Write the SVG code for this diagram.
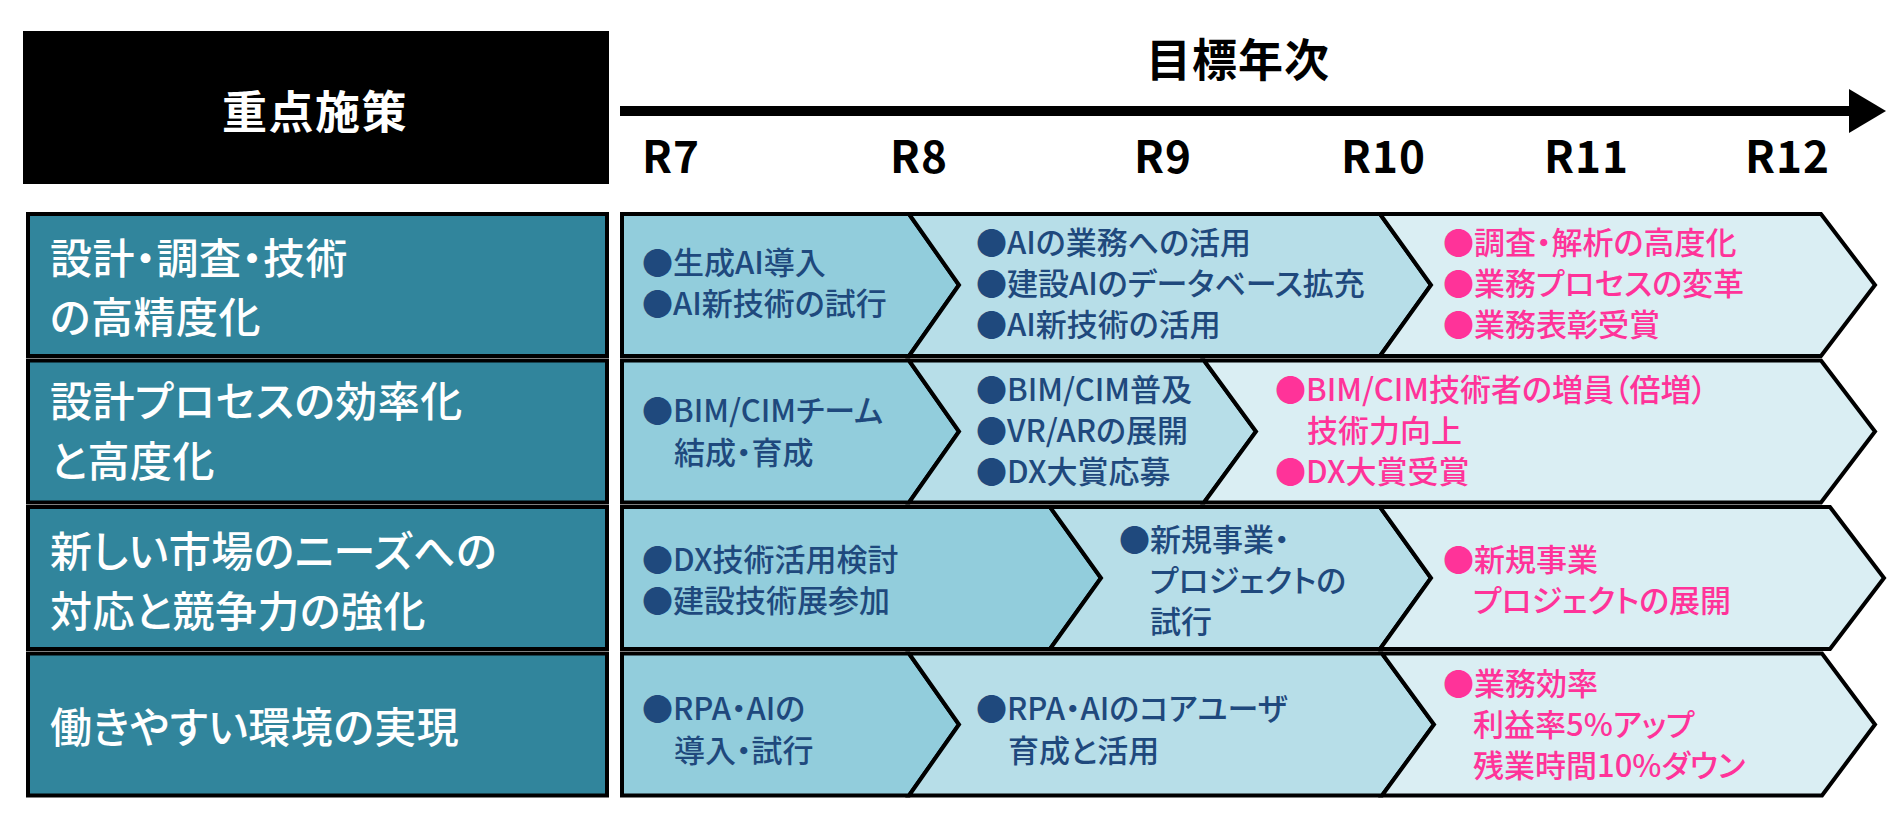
<svg xmlns="http://www.w3.org/2000/svg" width="1903" height="823" viewBox="0 0 1903 823">
<defs>
<style>
.hd{font-family:"Noto Sans CJK JP","Noto Sans",sans-serif;font-weight:700;fill:#000}
.hdw{font-family:"Noto Sans CJK JP","Noto Sans",sans-serif;font-weight:700;fill:#fff}
.lbox{fill:#31859C;stroke:#000;stroke-width:4}
.lt{font-family:"Noto Sans CJK JP","Noto Sans",sans-serif;font-size:42px;font-weight:500;fill:#fff;letter-spacing:0.5px;font-feature-settings:"palt" 1}
.c1{fill:#92CDDC;stroke:#000;stroke-width:4;stroke-linejoin:miter}
.c2{fill:#B7DEE8;stroke:#000;stroke-width:4;stroke-linejoin:miter}
.c3{fill:#DAEEF3;stroke:#000;stroke-width:4;stroke-linejoin:miter}
.t{font-family:"Noto Sans CJK JP","Noto Sans",sans-serif;font-size:31px;font-weight:500;fill:#1F497D;font-feature-settings:"palt" 1}
.p{font-family:"Noto Sans CJK JP","Noto Sans",sans-serif;font-size:31px;font-weight:500;fill:#FF3399;font-feature-settings:"palt" 1}
</style>
<marker id="ah" markerUnits="userSpaceOnUse" markerWidth="40" markerHeight="46" refX="0" refY="22" orient="auto">
<path d="M0,0 L37,22 L0,44 Z" fill="#000"/>
</marker>
</defs>

<g id="header">
<rect x="23" y="31" width="586" height="153" fill="#000"/>
<text class="hdw" x="315" y="129" font-size="45" text-anchor="middle" letter-spacing="1.5">重点施策</text>
<text class="hd" x="1238" y="77" font-size="45" text-anchor="middle" letter-spacing="1">目標年次</text>
</g>

<g id="connectors">
<line x1="620" y1="111" x2="1849" y2="111" stroke="#000" stroke-width="10" marker-end="url(#ah)"/>
</g>

<g id="years" class="hd" font-size="44" letter-spacing="1">
<text x="642" y="173">R7</text>
<text x="890" y="173">R8</text>
<text x="1134" y="173">R9</text>
<text x="1341" y="173">R10</text>
<text x="1544" y="173">R11</text>
<text x="1745" y="173">R12</text>
</g>

<g id="row1">
<rect class="lbox" x="28" y="214" width="579" height="142"/>
<text class="lt" x="50" y="274">設計・調査・技術</text>
<text class="lt" x="50" y="333">の高精度化</text>
<polygon class="c1" points="622,214 909,214 959,285 909,356 622,356"/>
<polygon class="c2" points="909,214 1380,214 1431,285 1380,356 909,356 959,285"/>
<polygon class="c3" points="1380,214 1821,214 1875,285 1821,356 1380,356 1431,285"/>
<text class="t" x="642" y="274">●生成AI導入</text>
<text class="t" x="642" y="315">●AI新技術の試行</text>
<text class="t" x="976" y="254">●AIの業務への活用</text>
<text class="t" x="976" y="295">●建設AIのデータベース拡充</text>
<text class="t" x="976" y="336">●AI新技術の活用</text>
<text class="p" x="1443" y="254">●調査・解析の高度化</text>
<text class="p" x="1443" y="295">●業務プロセスの変革</text>
<text class="p" x="1443" y="336">●業務表彰受賞</text>
</g>

<g id="row2">
<rect class="lbox" x="28" y="360.5" width="579" height="142"/>
<text class="lt" x="50" y="417">設計プロセスの効率化</text>
<text class="lt" x="50" y="477">と高度化</text>
<polygon class="c1" points="622,360.5 909,360.5 959,431.5 909,502.5 622,502.5"/>
<polygon class="c2" points="909,360.5 1204,360.5 1256,431.5 1204,502.5 909,502.5 959,431.5"/>
<polygon class="c3" points="1204,360.5 1821,360.5 1875,431.5 1821,502.5 1204,502.5 1256,431.5"/>
<text class="t" x="642" y="422">●BIM/CIMチーム</text>
<text class="t" x="674" y="464">結成・育成</text>
<text class="t" x="976" y="401">●BIM/CIM普及</text>
<text class="t" x="976" y="442">●VR/ARの展開</text>
<text class="t" x="976" y="483">●DX大賞応募</text>
<text class="p" x="1275" y="401">●BIM/CIM技術者の増員（倍増）</text>
<text class="p" x="1307" y="442">技術力向上</text>
<text class="p" x="1275" y="483">●DX大賞受賞</text>
</g>

<g id="row3">
<rect class="lbox" x="28" y="507" width="579" height="142"/>
<text class="lt" x="50" y="567">新しい市場のニーズへの</text>
<text class="lt" x="50" y="627">対応と競争力の強化</text>
<polygon class="c1" points="622,507 1050,507 1101,578 1050,649 622,649"/>
<polygon class="c2" points="1050,507 1380,507 1431,578 1380,649 1050,649 1101,578"/>
<polygon class="c3" points="1380,507 1830,507 1884,578 1830,649 1380,649 1431,578"/>
<text class="t" x="642" y="571">●DX技術活用検討</text>
<text class="t" x="642" y="612">●建設技術展参加</text>
<text class="t" x="1119" y="551">●新規事業・</text>
<text class="t" x="1150" y="592">プロジェクトの</text>
<text class="t" x="1150" y="633">試行</text>
<text class="p" x="1443" y="571">●新規事業</text>
<text class="p" x="1473" y="612">プロジェクトの展開</text>
</g>

<g id="row4">
<rect class="lbox" x="28" y="653.5" width="579" height="142"/>
<text class="lt" x="50" y="743">働きやすい環境の実現</text>
<polygon class="c1" points="622,653.5 909,653.5 959,724.5 909,795.5 622,795.5"/>
<polygon class="c2" points="909,653.5 1382,653.5 1434,724.5 1382,795.5 909,795.5 959,724.5"/>
<polygon class="c3" points="1382,653.5 1822,653.5 1875,724.5 1822,795.5 1382,795.5 1434,724.5"/>
<text class="t" x="642" y="720">●RPA・AIの</text>
<text class="t" x="674" y="762">導入・試行</text>
<text class="t" x="976" y="720">●RPA・AIのコアユーザ</text>
<text class="t" x="1008" y="762">育成と活用</text>
<text class="p" x="1443" y="695">●業務効率</text>
<text class="p" x="1473" y="736">利益率5%アップ</text>
<text class="p" x="1473" y="777">残業時間10%ダウン</text>
</g>
</svg>
